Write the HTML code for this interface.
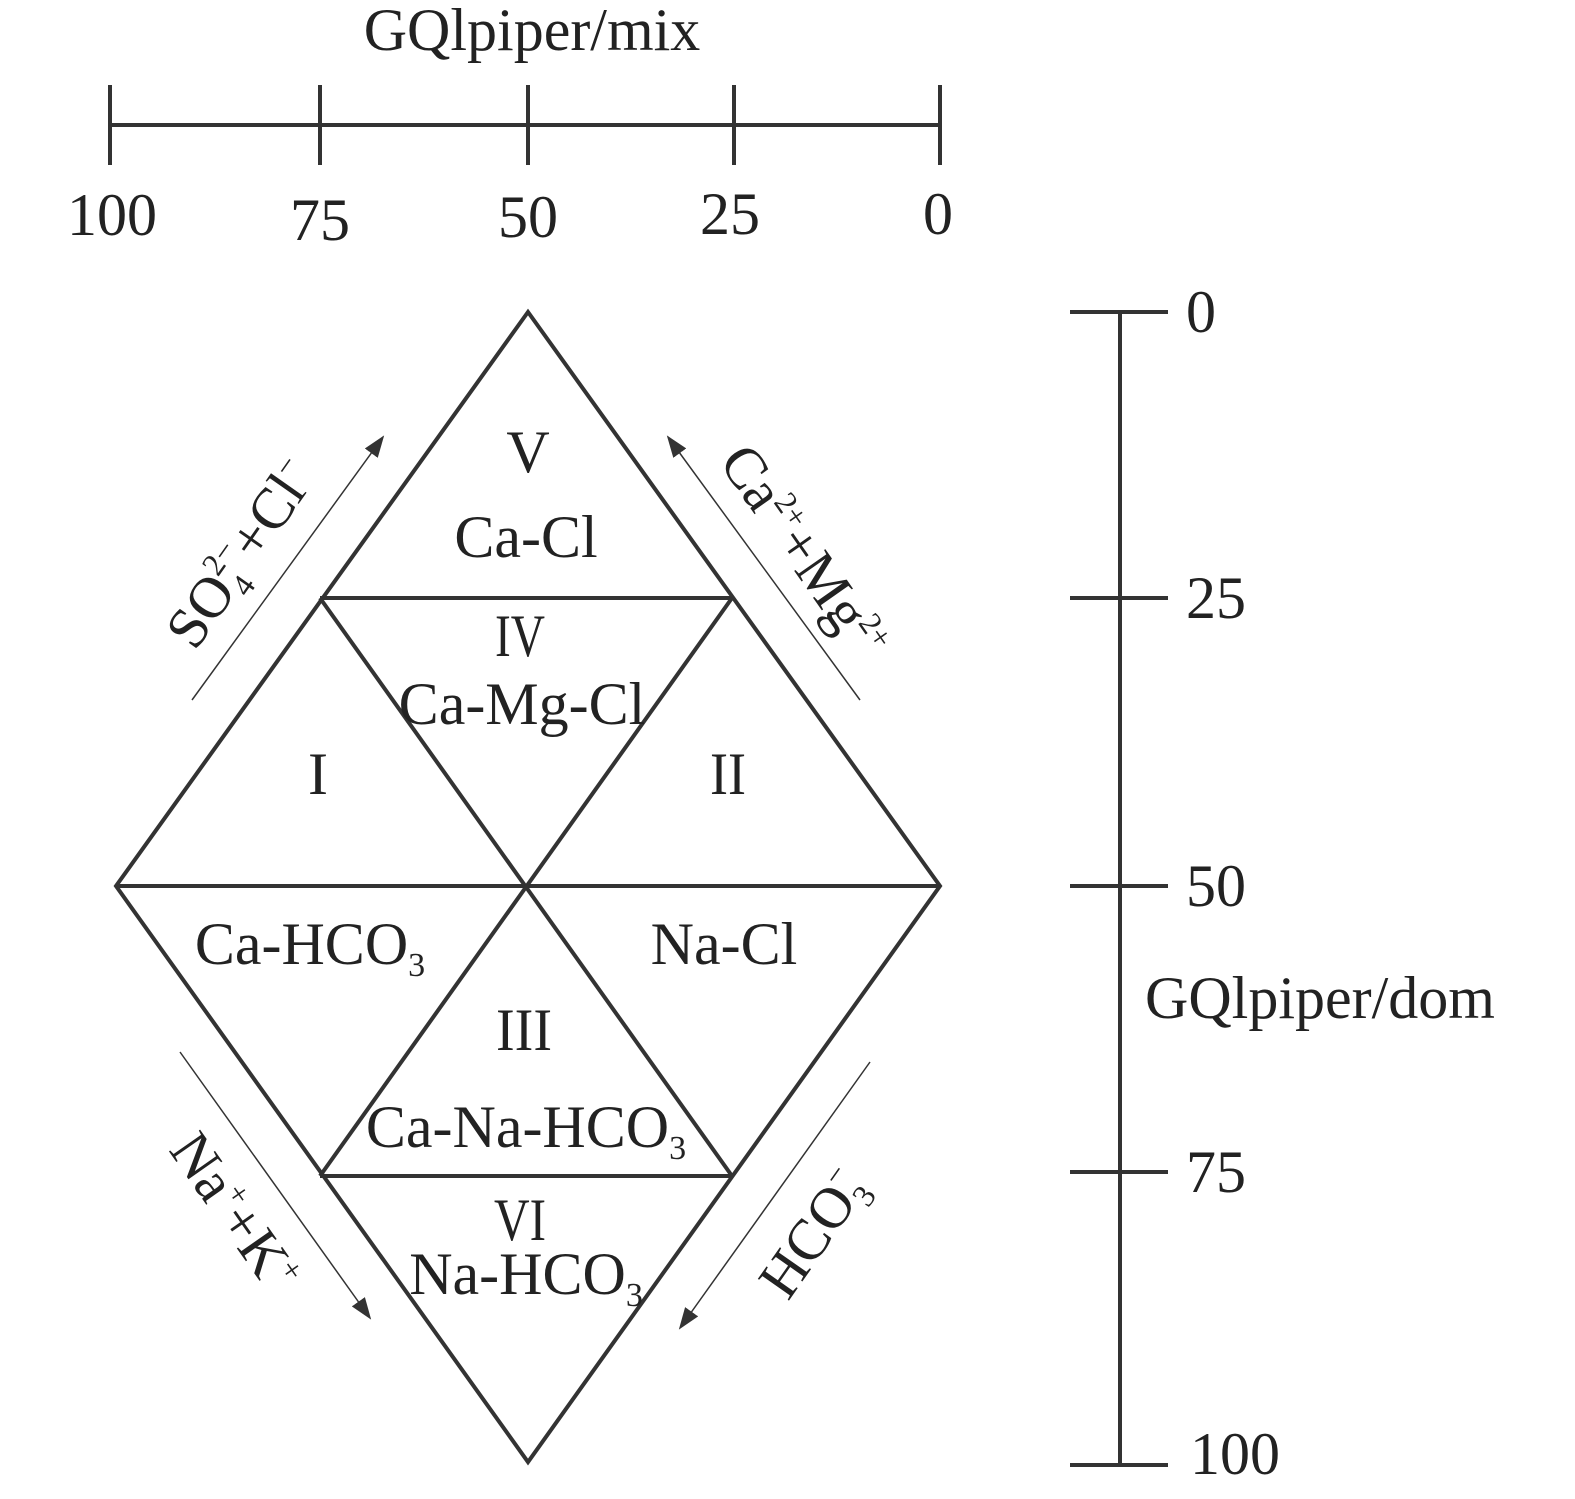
<!DOCTYPE html>
<html><head><meta charset="utf-8"><style>body{margin:0;background:#fff}svg{display:block}</style></head><body>
<svg width="1575" height="1499" viewBox="0 0 1575 1499" xmlns="http://www.w3.org/2000/svg" font-family="Liberation Serif, serif" fill="#222">
<defs>
<marker id="b" markerWidth="22" markerHeight="16" refX="20" refY="8" orient="auto" markerUnits="userSpaceOnUse"><path d="M0,0 L22,8 L0,16 z" fill="#333"/></marker></defs>
<g stroke="#333" stroke-width="4" fill="none">
<line x1="110" y1="125" x2="940" y2="125"/>
<line x1="110" y1="85" x2="110" y2="165"/><line x1="320" y1="85" x2="320" y2="165"/><line x1="528" y1="85" x2="528" y2="165"/><line x1="734" y1="85" x2="734" y2="165"/><line x1="940" y1="85" x2="940" y2="165"/>
<polygon points="528,312 940,886 528,1462 116,886"/>
<line x1="320" y1="598" x2="732" y2="598"/><line x1="116" y1="886" x2="940" y2="886"/><line x1="320" y1="1176" x2="732" y2="1176"/>
<line x1="320" y1="598" x2="732" y2="1176"/><line x1="732" y1="598" x2="320" y2="1176"/>
<line x1="1120" y1="312" x2="1120" y2="1465"/>
<line x1="1070" y1="312" x2="1168" y2="312"/><line x1="1070" y1="598" x2="1168" y2="598"/><line x1="1070" y1="886" x2="1168" y2="886"/><line x1="1070" y1="1172" x2="1168" y2="1172"/><line x1="1070" y1="1465" x2="1168" y2="1465"/>
</g>
<g stroke="#333" stroke-width="1.5">
<line x1="192" y1="700" x2="383" y2="437" marker-end="url(#b)"/>
<line x1="860" y1="700" x2="668" y2="437" marker-end="url(#b)"/>
<line x1="180" y1="1052" x2="370" y2="1318" marker-end="url(#b)"/>
<line x1="870" y1="1062" x2="680" y2="1328" marker-end="url(#b)"/>
</g>
<g font-size="60" text-anchor="middle">
<text x="532" y="50">GQlpiper/mix</text>
<text x="112" y="235">100</text><text x="320" y="240">75</text><text x="528" y="237">50</text><text x="730" y="234">25</text><text x="938" y="234">0</text>
<text x="528" y="472">V</text><text x="526" y="557">Ca-Cl</text>
<text x="520" y="656" textLength="50" lengthAdjust="spacingAndGlyphs">IV</text><text x="522" y="724">Ca-Mg-Cl</text>
<text x="318" y="794">I</text><text x="728" y="794" textLength="36" lengthAdjust="spacingAndGlyphs">II</text>
<text x="724" y="964">Na-Cl</text>
<text x="310" y="964">Ca-HCO<tspan font-size="34" dy="12">3</tspan></text>
<text x="524" y="1050" textLength="56" lengthAdjust="spacingAndGlyphs">III</text>
<text x="526" y="1147">Ca-Na-HCO<tspan font-size="34" dy="12">3</tspan></text>
<text x="520" y="1240" textLength="52" lengthAdjust="spacingAndGlyphs">VI</text>
<text x="526" y="1294">Na-HCO<tspan font-size="34" dy="12">3</tspan></text>
</g>
<g font-size="60">
<text x="1186" y="332">0</text><text x="1186" y="618">25</text><text x="1186" y="906">50</text><text x="1186" y="1192">75</text><text x="1190" y="1474">100</text>
<text x="1145" y="1018">GQlpiper/dom</text>
</g>
<g font-size="58">
<text transform="translate(195,652) rotate(-55)">SO<tspan font-size="32" dy="12">4</tspan><tspan font-size="32" dx="-16" dy="-36">2−</tspan><tspan dy="24">+Cl</tspan><tspan font-size="32" dy="-22">−</tspan></text>
<text transform="translate(718,462) rotate(55)">Ca<tspan font-size="32" dy="-22">2+</tspan><tspan dy="22">+Mg</tspan><tspan font-size="32" dy="-22">2+</tspan></text>
<text transform="translate(168,1150) rotate(55)">Na<tspan font-size="32" dy="-22">+</tspan><tspan dy="22">+K</tspan><tspan font-size="32" dy="-22">+</tspan></text>
<text transform="translate(788,1302) rotate(-55)">HCO<tspan font-size="32" dy="12">3</tspan><tspan font-size="32" dx="-16" dy="-36">−</tspan></text>
</g>
</svg>
</body></html>
